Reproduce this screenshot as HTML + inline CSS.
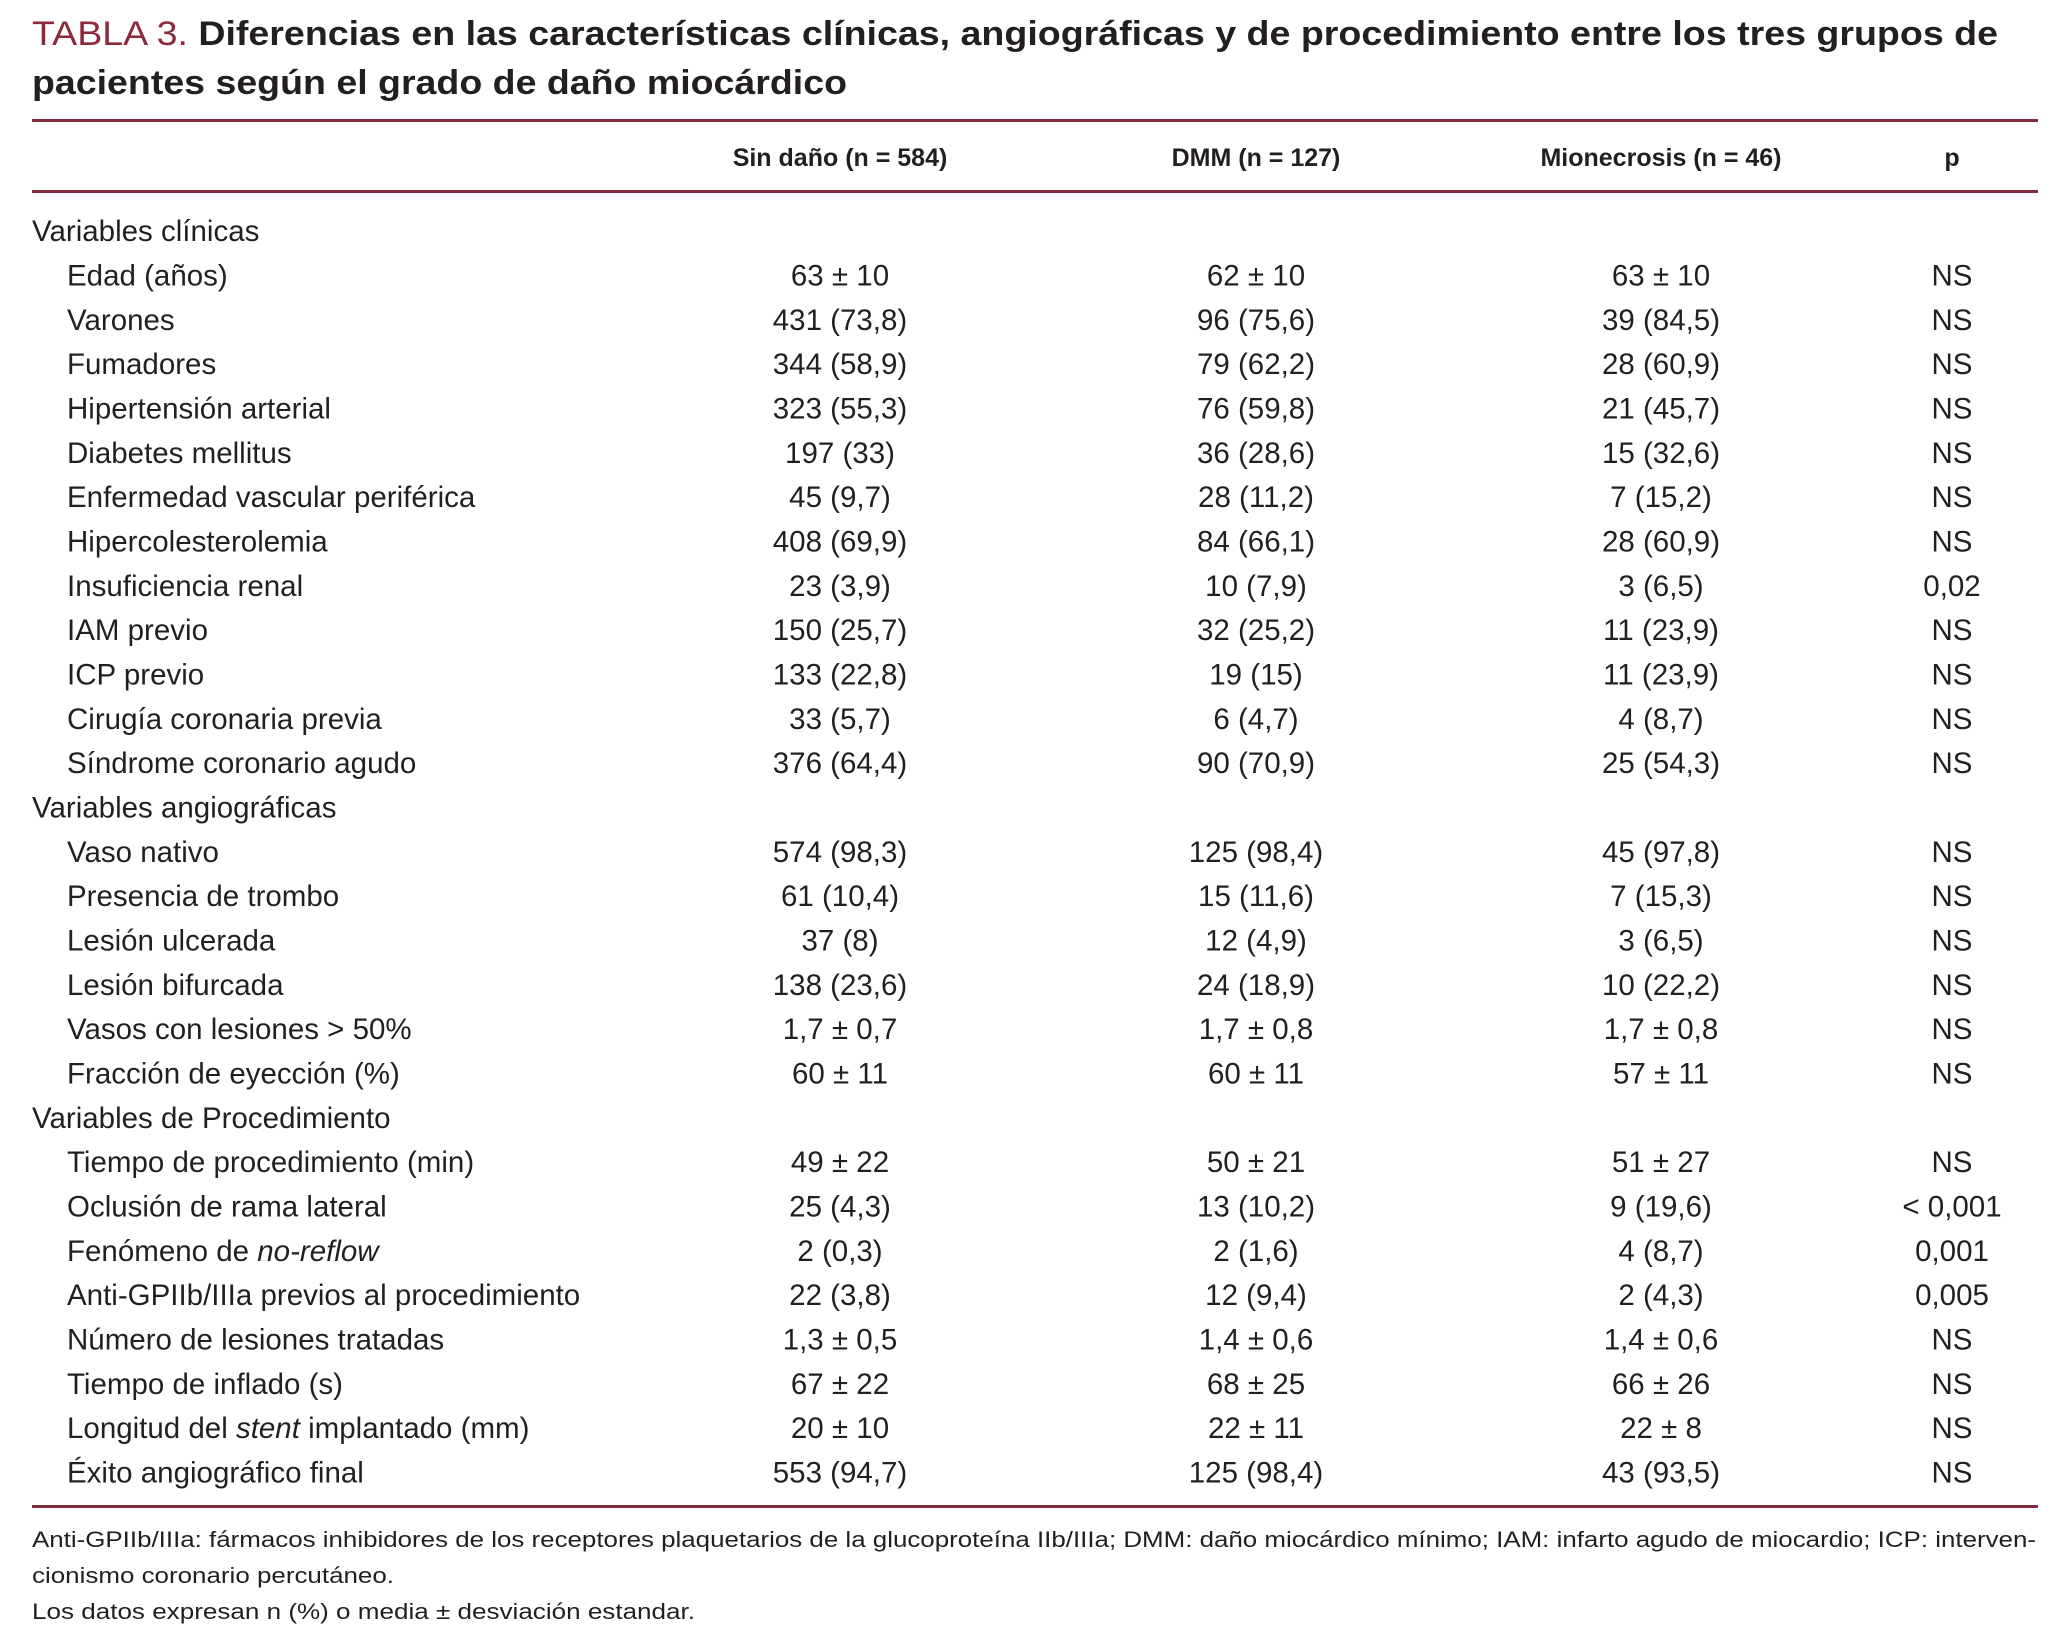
<!DOCTYPE html>
<html><head><meta charset="utf-8"><style>
html,body{margin:0;padding:0;background:#fff;}
svg{display:block;font-family:"Liberation Sans",Arial,sans-serif;}
</style></head><body>
<svg id="tbl" width="2066" height="1650" viewBox="0 0 2066 1650" xmlns="http://www.w3.org/2000/svg">
<rect width="2066" height="1650" fill="#fff"/>
<text x="32" y="45" font-size="34" fill="#231f20" textLength="1966" lengthAdjust="spacingAndGlyphs"><tspan fill="#8b2a3c">TABLA 3. </tspan><tspan font-weight="bold">Diferencias en las características clínicas, angiográficas y de procedimiento entre los tres grupos de</tspan></text>
<text x="32" y="94" font-size="34" font-weight="bold" fill="#231f20" textLength="815" lengthAdjust="spacingAndGlyphs">pacientes según el grado de daño miocárdico</text>
<rect x="32" y="119" width="2006" height="3" fill="#7b2f3e"/>
<g font-size="25" font-weight="bold" fill="#231f20" text-anchor="middle">
<text x="840" y="166">Sin daño (n = 584)</text>
<text x="1256" y="166">DMM (n = 127)</text>
<text x="1661" y="166">Mionecrosis (n = 46)</text>
<text x="1952" y="166">p</text>
</g>
<rect x="32" y="190" width="2006" height="3" fill="#7b2f3e"/>
<g id="rows"></g>
<rect x="32" y="1505" width="2006" height="3" fill="#7b2f3e"/>
<g font-size="22" fill="#231f20">
<text x="32" y="1547" textLength="2004" lengthAdjust="spacingAndGlyphs">Anti-GPIIb/IIIa: fármacos inhibidores de los receptores plaquetarios de la glucoproteína IIb/IIIa; DMM: daño miocárdico mínimo; IAM: infarto agudo de miocardio; ICP: interven-</text>
<text x="32" y="1583" textLength="362" lengthAdjust="spacingAndGlyphs">cionismo coronario percutáneo.</text>
<text x="32" y="1619" textLength="663" lengthAdjust="spacingAndGlyphs">Los datos expresan n (%) o media ± desviación estandar.</text>
</g>
</svg>
<script>
const labels = ["Variables clínicas","Edad (años)","Varones","Fumadores","Hipertensión arterial","Diabetes mellitus","Enfermedad vascular periférica","Hipercolesterolemia","Insuficiencia renal","IAM previo","ICP previo","Cirugía coronaria previa","Síndrome coronario agudo","Variables angiográficas","Vaso nativo","Presencia de trombo","Lesión ulcerada","Lesión bifurcada","Vasos con lesiones > 50%","Fracción de eyección (%)","Variables de Procedimiento","Tiempo de procedimiento (min)","Oclusión de rama lateral","Fenómeno de <i>no-reflow</i>","Anti-GPIIb/IIIa previos al procedimiento","Número de lesiones tratadas","Tiempo de inflado (s)","Longitud del <i>stent</i> implantado (mm)","Éxito angiográfico final"];
const sinDano = ["","63 ± 10","431 (73,8)","344 (58,9)","323 (55,3)","197 (33)","45 (9,7)","408 (69,9)","23 (3,9)","150 (25,7)","133 (22,8)","33 (5,7)","376 (64,4)","","574 (98,3)","61 (10,4)","37 (8)","138 (23,6)","1,7 ± 0,7","60 ± 11","","49 ± 22","25 (4,3)","2 (0,3)","22 (3,8)","1,3 ± 0,5","67 ± 22","20 ± 10","553 (94,7)"];
const dmm = ["","62 ± 10","96 (75,6)","79 (62,2)","76 (59,8)","36 (28,6)","28 (11,2)","84 (66,1)","10 (7,9)","32 (25,2)","19 (15)","6 (4,7)","90 (70,9)","","125 (98,4)","15 (11,6)","12 (4,9)","24 (18,9)","1,7 ± 0,8","60 ± 11","","50 ± 21","13 (10,2)","2 (1,6)","12 (9,4)","1,4 ± 0,6","68 ± 25","22 ± 11","125 (98,4)"];
const mionecrosis = ["","63 ± 10","39 (84,5)","28 (60,9)","21 (45,7)","15 (32,6)","7 (15,2)","28 (60,9)","3 (6,5)","11 (23,9)","11 (23,9)","4 (8,7)","25 (54,3)","","45 (97,8)","7 (15,3)","3 (6,5)","10 (22,2)","1,7 ± 0,8","57 ± 11","","51 ± 27","9 (19,6)","4 (8,7)","2 (4,3)","1,4 ± 0,6","66 ± 26","22 ± 8","43 (93,5)"];
const pValues = ["","NS","NS","NS","NS","NS","NS","NS","0,02","NS","NS","NS","NS","","NS","NS","NS","NS","NS","NS","","NS","< 0,001","0,001","0,005","NS","NS","NS","NS"];
const NS = "http://www.w3.org/2000/svg";
const g = document.getElementById('rows');
const cols = [[sinDano,840,'sin-dano'],[dmm,1256,'dmm'],[mionecrosis,1661,'mionecrosis'],[pValues,1952,'p']];
labels.forEach((lab,i)=>{
  const y = 230.7 + i*44.33 + 10.5;
  const isGroup = sinDano[i]==="";
  const safe = lab.replace(' > ',' &gt; ');
  const t = document.createElementNS(NS,'text');
  t.setAttribute('x', isGroup?32:67);t.setAttribute('y',y);t.setAttribute('font-size','29.5');t.setAttribute('fill','#231f20');
  t.innerHTML = safe.replace(/<i>/g,'<tspan font-style="italic">').replace(/<\/i>/g,'</tspan>');
  
  
  g.appendChild(t);
  cols.forEach(([arr,x,nm])=>{
    if(!arr[i]) return;
    const c = document.createElementNS(NS,'text');
    c.setAttribute('x',x);c.setAttribute('y',y);c.setAttribute('font-size','29.5');c.setAttribute('fill','#231f20');c.setAttribute('text-anchor','middle');
    c.textContent = arr[i];
    
    
    g.appendChild(c);
  });
});
</script>
</body></html>
